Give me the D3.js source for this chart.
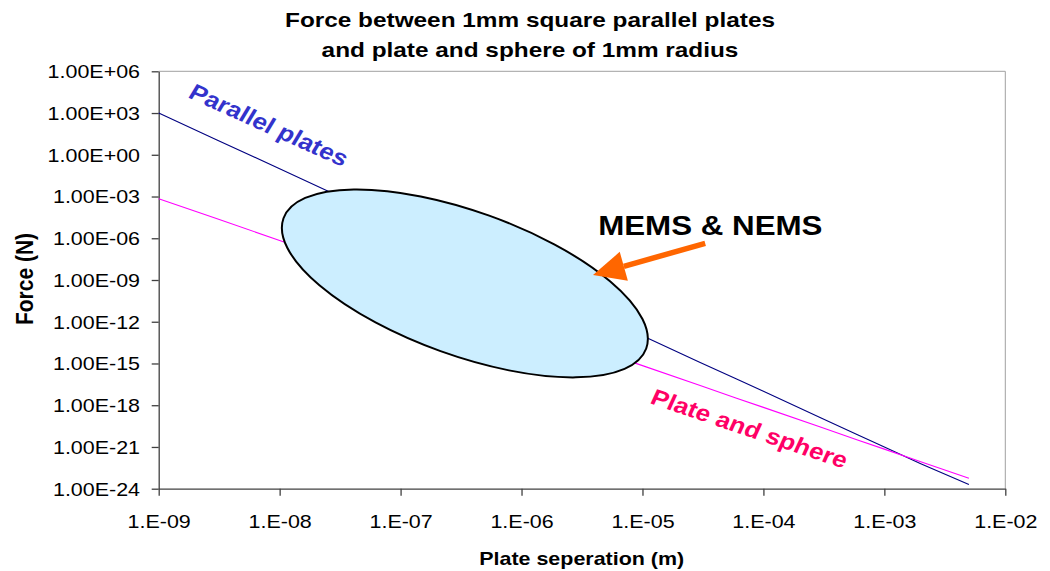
<!DOCTYPE html>
<html>
<head>
<meta charset="utf-8">
<script src="https://cdn.jsdelivr.net/npm/d3@7"></script>
<style>
  body { margin: 0; background: #fff; }
  text { font-family: "Liberation Sans", Arial, sans-serif; }
</style>
</head>
<body>
<div id="chart"></div>
<script>
// separation (m)
const separation = [1e-9, 3e-9, 1e-8, 3e-8, 1e-7, 3e-7, 1e-6, 3e-6, 1e-5, 3e-5, 6e-5, 1e-4, 3e-4, 6e-4, 1e-3, 2e-3, 5e-3];
// force (N)
const parallelPlates = [1.0e3, 1.2e1, 1.0e-1, 1.2e-3, 1.0e-5, 1.2e-7, 1.0e-9, 1.2e-11, 1.0e-13, 1.2e-15, 7.7e-17, 1.0e-17, 1.2e-19, 7.7e-21, 1.0e-21, 6.3e-23, 2.0e-24];
const plateSphere = [7e-4, 2.6e-5, 7e-7, 2.6e-8, 7e-10, 2.6e-11, 7e-13, 2.6e-14, 7e-16, 2.6e-17, 3.2e-18, 7e-19, 2.6e-20, 3.2e-21, 7e-22, 8.8e-23, 5.6e-24];

const yTicks = [1e6, 1e3, 1e0, 1e-3, 1e-6, 1e-9, 1e-12, 1e-15, 1e-18, 1e-21, 1e-24];
const yTickLabels = ["1.00E+06", "1.00E+03", "1.00E+00", "1.00E-03", "1.00E-06", "1.00E-09", "1.00E-12", "1.00E-15", "1.00E-18", "1.00E-21", "1.00E-24"];
const xTicks = [1e-9, 1e-8, 1e-7, 1e-6, 1e-5, 1e-4, 1e-3, 1e-2];
const xTickLabels = ["1.E-09", "1.E-08", "1.E-07", "1.E-06", "1.E-05", "1.E-04", "1.E-03", "1.E-02"];

const W = 1050, H = 571;
const S = 1.16; // the picture is a bit wider than tall, text too

const svg = d3.select("#chart").append("svg")
  .attr("width", W).attr("height", H);

const x = d3.scaleLog().domain([1e-9, 1e-2]).range([158.7, 1005.3]);
const y = d3.scaleLog().domain([1e-24, 1e6]).range([488.7, 71.3]);

// stretched text helper
function label(px, py, txt, o) {
  o = o || {};
  const g = svg.append("g")
    .attr("transform", `translate(${px},${py}) scale(${S},1) rotate(${o.rotate || 0})`);
  return g.append("text")
    .attr("text-anchor", o.anchor || "start")
    .style("font-size", (o.size || 18) + "px")
    .style("font-weight", o.bold ? "bold" : "normal")
    .attr("fill", o.color || "#000")
    .text(txt);
}

// plot frame
svg.append("path")
  .attr("d", `M${x.range()[0]},${y.range()[1]}H${x.range()[1]}V${y.range()[0]}`)
  .attr("fill", "none").attr("stroke", "#a0a0a0").attr("stroke-width", 1);

const yAxis = svg.append("g")
  .attr("transform", `translate(${x.range()[0]},0)`)
  .call(d3.axisLeft(y).tickValues(yTicks).tickFormat((d, i) => yTickLabels[i]).tickSize(7).tickSizeOuter(0));
const xAxis = svg.append("g")
  .attr("transform", `translate(0,${y.range()[0]})`)
  .call(d3.axisBottom(x).tickValues(xTicks).tickFormat((d, i) => xTickLabels[i]).tickSize(7).tickSizeOuter(0));

[yAxis, xAxis].forEach(a => {
  a.select(".domain").attr("stroke", "#404040").attr("stroke-width", 1.3);
  a.selectAll(".tick line").attr("stroke", "#404040").attr("stroke-width", 1.3);
  a.selectAll("text").style("font-size", "18.5px").attr("fill", "#000")
    .style("font-family", '"Liberation Sans", Arial, sans-serif');
});
yAxis.selectAll("text").attr("x", -18.7 / S).attr("dy", "0.35em").attr("transform", `scale(${S},1)`);
xAxis.selectAll("text").attr("y", 39).attr("dy", 0).attr("transform", `scale(${S},1)`);

// series
const line = d3.line().x(d => x(d[0])).y(d => y(d[1]));
svg.append("path")
  .datum(d3.zip(separation, parallelPlates))
  .attr("d", line).attr("fill", "none").attr("stroke", "#000080").attr("stroke-width", 1.1);
svg.append("path")
  .datum(d3.zip(separation, plateSphere))
  .attr("d", line).attr("fill", "none").attr("stroke", "#ff00ff").attr("stroke-width", 1.1);

// MEMS & NEMS region
svg.append("ellipse")
  .attr("transform", `translate(${x(3.4e-7)},${y(5.7e-10)}) rotate(19.75)`)
  .attr("rx", 192.7).attr("ry", 72)
  .attr("fill", "#cceeff").attr("stroke", "#000").attr("stroke-width", 2);

// arrow
const tail = [x(3.3e-5), y(4.3e-7)];
const tip = [x(3.9e-6), y(2.3e-9)];
const ang = Math.atan2(tip[1] - tail[1], tip[0] - tail[0]);
const headLen = 32, headHalf = 15;
const base = [tip[0] - headLen * Math.cos(ang), tip[1] - headLen * Math.sin(ang)];
svg.append("line")
  .attr("x1", tail[0]).attr("y1", tail[1]).attr("x2", base[0]).attr("y2", base[1])
  .attr("stroke", "#ff6600").attr("stroke-width", 5.5);
svg.append("polygon")
  .attr("points", [
    tip,
    [base[0] + headHalf * Math.sin(ang), base[1] - headHalf * Math.cos(ang)],
    [base[0] - headHalf * Math.sin(ang), base[1] + headHalf * Math.cos(ang)]
  ].map(p => p.join(",")).join(" "))
  .attr("fill", "#ff6600");

label(x(4.3e-6), y(1.7e-6), "MEMS & NEMS", {size: 27, bold: true});

// series labels
label(187, 97, "Parallel plates", {size: 22.5, bold: true, color: "#3333cc", rotate: 27.6});
label(649, 403, "Plate and sphere", {size: 22.5, bold: true, color: "#ff0066", rotate: 21.4});

// titles
label(W / 2 + 5, 27.3, "Force between 1mm square parallel plates", {size: 21, bold: true, anchor: "middle"});
label(W / 2 + 5, 56.7, "and plate and sphere of 1mm radius", {size: 21, bold: true, anchor: "middle"});
label(581.7, 565, "Plate seperation (m)", {size: 18.5, bold: true, anchor: "middle"});
label(33, 279, "Force (N)", {size: 21, bold: true, anchor: "middle", rotate: -90});
</script>
</body>
</html>
